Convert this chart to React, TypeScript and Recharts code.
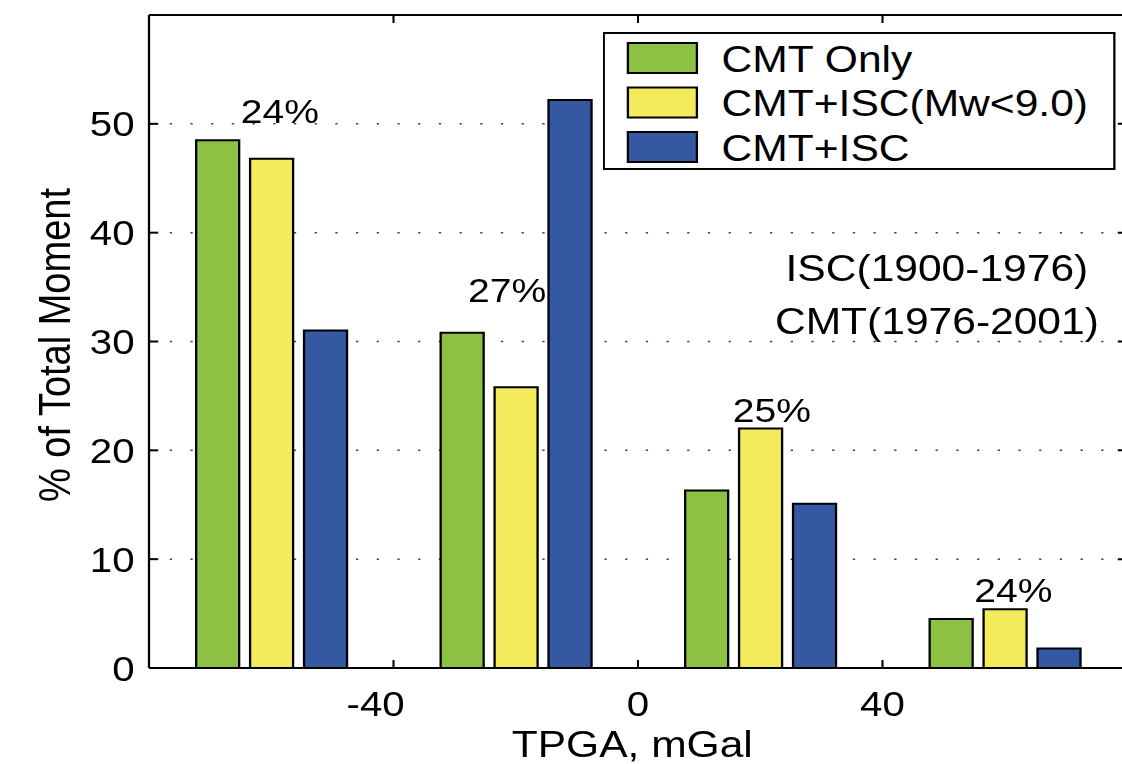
import React from 'react';
import {
  BarChart,
  Bar,
  XAxis,
  YAxis,
  CartesianGrid,
  Legend,
  ReferenceDot,
  Label,
} from 'recharts';

// bin centres (mGal) and the share of moment per catalogue
const BINS = [-60, -20, 20, 60];
const CMT_ONLY = [48.5, 30.8, 16.3, 4.5];
const CMT_ISC_MW9 = [46.8, 25.8, 22.0, 5.4];
const CMT_ISC = [31.0, 52.2, 15.1, 1.8];

const SERIES = [
  { key: 'cmtOnly', name: 'CMT Only', color: '#8DC144' },
  { key: 'cmtIscMw9', name: 'CMT+ISC(Mw<9.0)', color: '#F3EB5C' },
  { key: 'cmtIsc', name: 'CMT+ISC', color: '#3558A3' },
];

const Y_TICKS = [0, 10, 20, 30, 40, 50];
const X_TICKS = [-40, 0, 40];

// share of area in each bin, placed in data coordinates
const BIN_SHARES = [
  { text: '24%', x: -58.6, y: 50.1 },
  { text: '27%', x: -21.4, y: 33.6 },
  { text: '25%', x: 21.9, y: 22.6 },
  { text: '24%', x: 61.4, y: 6.1 },
];

const PERIOD_NOTES = [
  { text: 'ISC(1900-1976)', x: 48.9, y: 35.6 },
  { text: 'CMT(1976-2001)', x: 48.9, y: 30.7 },
];

const data = BINS.map((bin, i) => ({
  bin,
  cmtOnly: CMT_ONLY[i],
  cmtIscMw9: CMT_ISC_MW9[i],
  cmtIsc: CMT_ISC[i],
}));

// the figure is drawn 1.15x wider than tall, like the exported plot
const STRETCH = 1.15;
const W = 995;
const H = 764;
const FONT = '"Liberation Sans", Arial, Helvetica, sans-serif';

const LeftTick = ({ x, y, payload }: any) => (
  <g>
    <line x1={x} x2={x + 8} y1={y} y2={y} stroke="#000" strokeWidth={2} />
    <text x={x - 12.5} y={y} dy="0.358em" textAnchor="end" fontSize={35} fill="#000">
      {payload.value}
    </text>
  </g>
);

const RightTick = ({ x, y }: any) => (
  <line x1={x - 8} x2={x} y1={y} y2={y} stroke="#000" strokeWidth={2} />
);

const BottomTick = ({ x, y, payload }: any) => (
  <g>
    <line x1={x} x2={x} y1={y} y2={y - 8} stroke="#000" strokeWidth={1.8} />
    <text
      x={x}
      y={y + 48}
      dx={payload.value < 0 ? -15.5 : 0}
      textAnchor="middle"
      fontSize={35}
      fill="#000"
    >
      {payload.value}
    </text>
  </g>
);

const TopTick = ({ x, y }: any) => (
  <line x1={x} x2={x} y1={y} y2={y + 8} stroke="#000" strokeWidth={1.8} />
);

const seriesOrder = (name: string) => SERIES.findIndex((s) => s.name === name);

const LegendBox = ({ payload }: any) => {
  const items = [...(payload || [])].sort((a: any, b: any) => seriesOrder(a.value) - seriesOrder(b.value));
  return (
    <svg width={446} height={138} style={{ display: 'block' }}>
      <rect x={1} y={1} width={444} height={136} fill="#fff" stroke="#000" strokeWidth={2} />
      {items.map((item: any, i: number) => (
        <g key={item.value}>
          <rect
            x={22}
            y={11 + i * 44.5}
            width={60}
            height={30}
            fill={item.color}
            stroke="#000"
            strokeWidth={2}
          />
          <text x={103.5} y={40 + i * 44.5} fontSize={37} fill="#000">
            {item.value}
          </text>
        </g>
      ))}
    </svg>
  );
};

export default function App() {
  return (
    <div
      style={{
        position: 'fixed',
        left: 0,
        top: 0,
        width: 1122,
        height: 764,
        overflow: 'hidden',
        background: '#fff',
        fontFamily: FONT,
      }}
    >
      <div style={{ width: W, height: H, transform: `scaleX(${STRETCH})`, transformOrigin: '0 0' }}>
        <BarChart
          width={W}
          height={H}
          data={data}
          margin={{ top: 14, right: 14, left: 49.57, bottom: 36 }}
          barSize={37.4}
          barGap={9.5}
        >
          <CartesianGrid
            xAxisId="cat"
            yAxisId="left"
            vertical={false}
            stroke="#444"
            strokeWidth={1.5}
            strokeDasharray="2 16"
          />
          <XAxis xAxisId="cat" dataKey="bin" hide height={0} />
          <XAxis
            xAxisId="num"
            dataKey="bin"
            type="number"
            domain={[-80, 80]}
            ticks={X_TICKS}
            allowDataOverflow
            height={60}
            tickSize={0}
            tickMargin={0}
            tick={<BottomTick />}
            axisLine={{ stroke: '#000', strokeWidth: 2 }}
          >
            <Label
              content={({ viewBox }: any) => (
                <text
                  x={viewBox.x + viewBox.width / 2 - 5}
                  y={757}
                  textAnchor="middle"
                  fontSize={37}
                  fill="#000"
                >
                  TPGA, mGal
                </text>
              )}
            />
          </XAxis>
          <XAxis
            xAxisId="top"
            dataKey="bin"
            orientation="top"
            type="number"
            domain={[-80, 80]}
            ticks={X_TICKS}
            allowDataOverflow
            height={1}
            tickSize={0}
            tickMargin={0}
            tick={<TopTick />}
            axisLine={{ stroke: '#000', strokeWidth: 2 }}
          />
          <YAxis
            yAxisId="left"
            domain={[0, 60]}
            ticks={Y_TICKS}
            allowDataOverflow
            width={80}
            tickSize={0}
            tickMargin={0}
            tick={<LeftTick />}
            axisLine={{ stroke: '#000', strokeWidth: 2 }}
          >
            <Label
              content={({ viewBox }: any) => (
                <text
                  transform={`translate(60.5, ${viewBox.y + viewBox.height / 2 + 3.5}) rotate(-90)`}
                  textAnchor="middle"
                  fontSize={38}
                  fill="#000"
                >
                  % of Total Moment
                </text>
              )}
            />
          </YAxis>
          <YAxis
            yAxisId="right"
            orientation="right"
            domain={[0, 60]}
            ticks={Y_TICKS}
            allowDataOverflow
            width={1}
            tickSize={0}
            tickMargin={0}
            tick={<RightTick />}
            axisLine={{ stroke: '#000', strokeWidth: 2 }}
          />
          <Legend
            layout="vertical"
            align="center"
            verticalAlign="middle"
            content={<LegendBox />}
            wrapperStyle={{ left: 524.3, top: 32, width: 446 }}
          />
          {SERIES.map((s) => (
            <Bar
              key={s.key}
              dataKey={s.key}
              name={s.name}
              xAxisId="cat"
              yAxisId="left"
              fill={s.color}
              stroke="#000"
              strokeWidth={2}
              isAnimationActive={false}
            />
          ))}
          {BIN_SHARES.map((a, i) => (
            <ReferenceDot
              key={`share-${i}`}
              xAxisId="num"
              yAxisId="left"
              x={a.x}
              y={a.y}
              r={0}
              shape={(p: any) => (
                <text x={p.cx} y={p.cy} textAnchor="middle" fontSize={34} fill="#000">
                  {a.text}
                </text>
              )}
            />
          ))}
          {PERIOD_NOTES.map((a, i) => (
            <ReferenceDot
              key={`note-${i}`}
              xAxisId="num"
              yAxisId="left"
              x={a.x}
              y={a.y}
              r={0}
              shape={(p: any) => (
                <text x={p.cx} y={p.cy} textAnchor="middle" fontSize={37} fill="#000">
                  {a.text}
                </text>
              )}
            />
          ))}
        </BarChart>
      </div>
    </div>
  );
}
